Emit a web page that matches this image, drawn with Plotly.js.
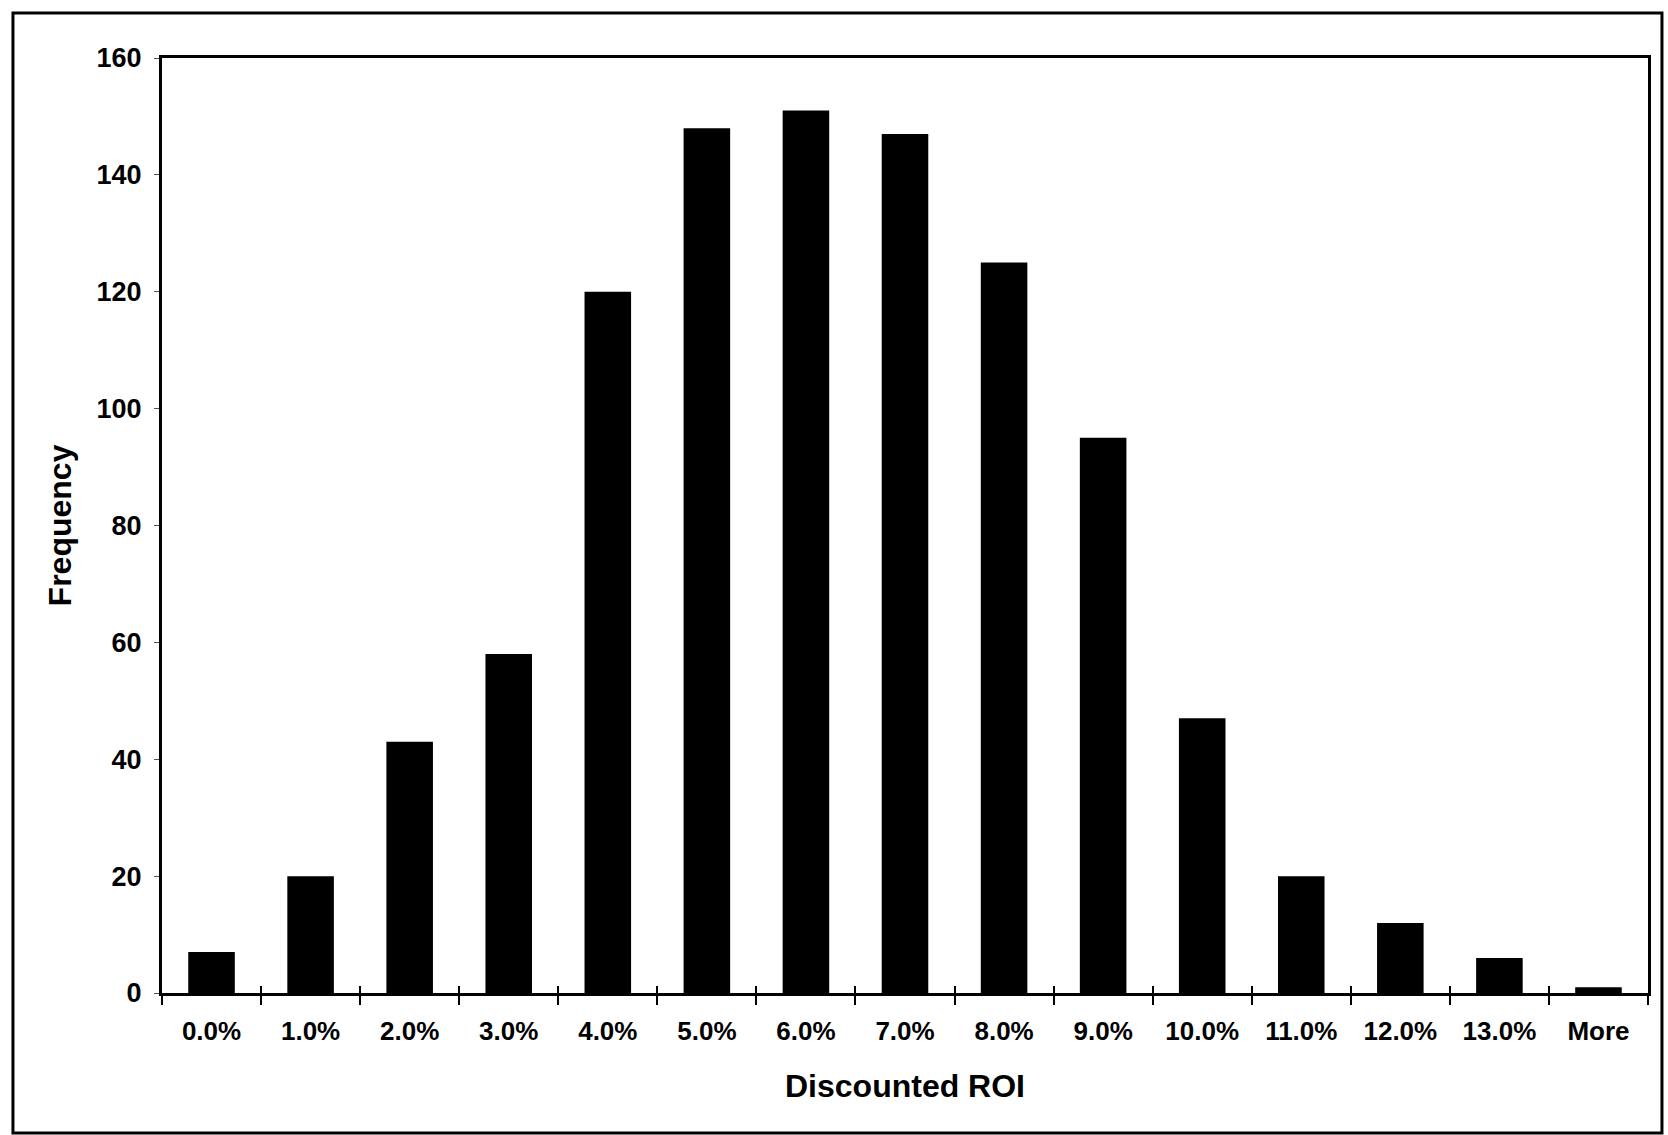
<!DOCTYPE html>
<html>
<head>
<meta charset="utf-8">
<script src="https://cdn.plot.ly/plotly-3.0.1.min.js"></script>
<style>
  html, body { margin: 0; padding: 0; background: #ffffff; }
  #chart { width: 1668px; height: 1135px; }
</style>
</head>
<body>
<div id="chart"></div>
<script>
// Histogram bins of discounted ROI and how many outcomes fell in each
const bins = ["0.0%", "1.0%", "2.0%", "3.0%", "4.0%", "5.0%", "6.0%", "7.0%",
              "8.0%", "9.0%", "10.0%", "11.0%", "12.0%", "13.0%", "More"];
const counts = [7, 20, 43, 58, 120, 148, 151, 147, 125, 95, 47, 20, 12, 6, 1];
const yTicks = [0, 20, 40, 60, 80, 100, 120, 140, 160];

const FONT = "Liberation Sans, Arial, Helvetica, sans-serif";
const boldFont = (size) => ({ family: FONT, size: size, color: "#000000", weight: "bold" });

const traces = [
  {
    type: "bar",
    x: bins,
    y: counts,
    marker: { color: "#000000", line: { width: 0 } },
    hoverinfo: "x+y",
    showlegend: false
  },
  {
    // companion trace that carries the inward half of the crossing tick marks
    type: "scatter",
    mode: "none",
    x: bins,
    y: counts,
    xaxis: "x2",
    hoverinfo: "skip",
    showlegend: false
  }
];

const layout = {
  width: 1668,
  height: 1135,
  margin: { l: 162, r: 20, t: 58, b: 142, pad: 0 },
  paper_bgcolor: "#ffffff",
  plot_bgcolor: "#ffffff",
  font: boldFont(26),
  bargap: 0.53,
  xaxis: {
    type: "category",
    categoryorder: "array",
    categoryarray: bins,
    range: [-0.5, bins.length - 0.5],
    showline: true,
    mirror: true,
    linecolor: "#000000",
    linewidth: 3,
    ticks: "outside",
    tickson: "boundaries",
    ticklen: 9,
    tickwidth: 2,
    tickcolor: "#000000",
    showgrid: false,
    zeroline: false,
    tickfont: boldFont(26),
    ticklabelstandoff: 13,
    title: { text: "Discounted ROI", font: boldFont(32), standoff: 30 }
  },
  xaxis2: {
    type: "category",
    categoryorder: "array",
    categoryarray: bins,
    overlaying: "x",
    anchor: "y",
    side: "bottom",
    range: [-0.5, bins.length - 0.5],
    showline: false,
    ticks: "inside",
    tickson: "boundaries",
    ticklen: 7,
    tickwidth: 2,
    tickcolor: "#000000",
    showticklabels: false,
    showgrid: false,
    zeroline: false
  },
  yaxis: {
    range: [0, 160],
    tickmode: "array",
    tickvals: yTicks,
    ticktext: yTicks.map(String),
    showline: true,
    mirror: true,
    linecolor: "#000000",
    linewidth: 3,
    ticks: "outside",
    ticklen: 5,
    tickwidth: 1,
    tickcolor: "#555555",
    showgrid: false,
    zeroline: false,
    tickfont: boldFont(27),
    ticklabelstandoff: 7,
    title: { text: "Frequency", font: boldFont(32), standoff: 16 }
  },
  shapes: [
    {
      // outer frame around the whole chart
      type: "rect",
      xref: "paper",
      yref: "paper",
      x0: -0.1003, x1: 1.0094,
      y0: -0.1497, y1: 1.048,
      line: { color: "#000000", width: 3 },
      fillcolor: "rgba(0,0,0,0)",
      layer: "above"
    }
  ]
};

Plotly.newPlot("chart", traces, layout, { displayModeBar: false, staticPlot: true });
</script>
</body>
</html>
